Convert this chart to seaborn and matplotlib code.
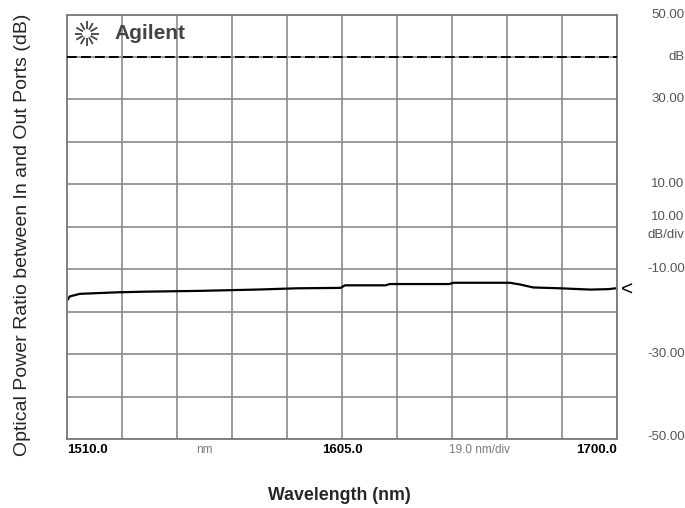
import numpy as np
import pandas as pd
import matplotlib
matplotlib.use("Agg")
import matplotlib.pyplot as plt
import seaborn as sns

# ---- data ----
wavelength_nm = [1510.2, 1511.0, 1514.5, 1527.3, 1536.3, 1555.9, 1575.6, 1589.5,
                 1604.5, 1606.0, 1620.0, 1621.5, 1642.0, 1643.5, 1663.0, 1666.5,
                 1671.0, 1680.3, 1690.7, 1697.0, 1699.5]
ratio_db = [-17.2, -16.4, -15.8, -15.45, -15.3, -15.1, -14.8, -14.5,
            -14.4, -13.8, -13.8, -13.5, -13.5, -13.2, -13.2, -13.6,
            -14.3, -14.5, -14.8, -14.7, -14.5]
ref_level_db = 40.0
x_start, x_center, x_stop, x_div = 1510.0, 1605.0, 1700.0, 19.0
y_top, y_bottom, y_div = 50.0, -50.0, 10.0
right_labels = [(50, "50.00"), (40, "dB"), (30, "30.00"), (10, "10.00"),
                (2.3, "10.00"), (-1.9, "dB/div"), (-10, "-10.00"),
                (-30, "-30.00"), (-49.6, "-50.00")]
bottom_labels = [(1510.0, "1510.0", "left", True), (1557.5, "nm", "center", False),
                 (1605.0, "1605.0", "center", True), (1652.5, "19.0 nm/div", "center", False),
                 (1700.0, "1700.0", "right", True)]

sns.set_style("white")
plt.rcParams['font.family'] = ['Liberation Sans', 'DejaVu Sans']

fig = plt.figure(figsize=(6.85, 5.08), dpi=100)
ax = fig.add_axes([67/685, (508-439)/508, 550/685, 424.5/508])

df = pd.DataFrame({"Wavelength (nm)": wavelength_nm, "dB": ratio_db})
sns.lineplot(data=df, x="Wavelength (nm)", y="dB", ax=ax, color="black",
             linewidth=1.6, sort=False, estimator=None)
ax.axhline(ref_level_db, color="black", linestyle=(0, (5, 2.2)), linewidth=1.4, zorder=3)

ax.set_xlim(x_start, x_stop)
ax.set_ylim(y_bottom, y_top)
ax.set_xticks(np.arange(x_start, x_stop + 0.01, x_div))
ax.set_yticks(np.arange(y_bottom, y_top + 0.01, y_div))
ax.grid(True, color="#8a8a8a", linewidth=1.2)
ax.set_axisbelow(True)
ax.tick_params(length=0, labelbottom=False, labelleft=False)
for s in ax.spines.values():
    s.set_color("#7a7a7a")
    s.set_linewidth(1.3)
ax.set_xlabel("")
ax.set_ylabel("")

# right-side labels
for yv, txt in right_labels:
    ax.text(1.123, yv, txt, transform=ax.get_yaxis_transform(), ha="right", va="center",
            fontsize=9.5, color="#555555")
ax.text(1.008, -14.8, "<", transform=ax.get_yaxis_transform(), ha="left", va="center",
        fontsize=15, color="black")

# bottom labels
for xv, txt, ha, bold in bottom_labels:
    ax.text(xv, -0.027, txt, transform=ax.get_xaxis_transform(), ha=ha, va="center",
            fontsize=9.5 if bold else 8.5, fontweight="bold" if bold else "normal",
            color="black" if bold else "#7a7a7a")

# logo
cx, cy = 0.036, 0.955
for ang in np.arange(0, 360, 30):
    a = np.deg2rad(ang)
    r1, r2 = 0.008, 0.022
    ax.plot([cx + r1*np.cos(a), cx + r2*np.cos(a)],
            [cy + r1*np.sin(a)*1.3, cy + r2*np.sin(a)*1.3],
            transform=ax.transAxes, color="#444444", linewidth=1.3,
            solid_capstyle="butt", zorder=4)
ax.text(0.087, 0.955, "Agilent", transform=ax.transAxes, ha="left", va="center",
        fontsize=15, fontweight="bold", color="#444444")

fig.text(339/685, 1 - 495/508, "Wavelength (nm)", ha="center", va="center",
         fontsize=12.8, fontweight="bold")
fig.text(23/685, 1 - 235/508, "Optical Power Ratio between In and Out Ports (dB)",
         ha="center", va="center", rotation=90, fontsize=14)

fig.savefig("out.png", dpi=100)
